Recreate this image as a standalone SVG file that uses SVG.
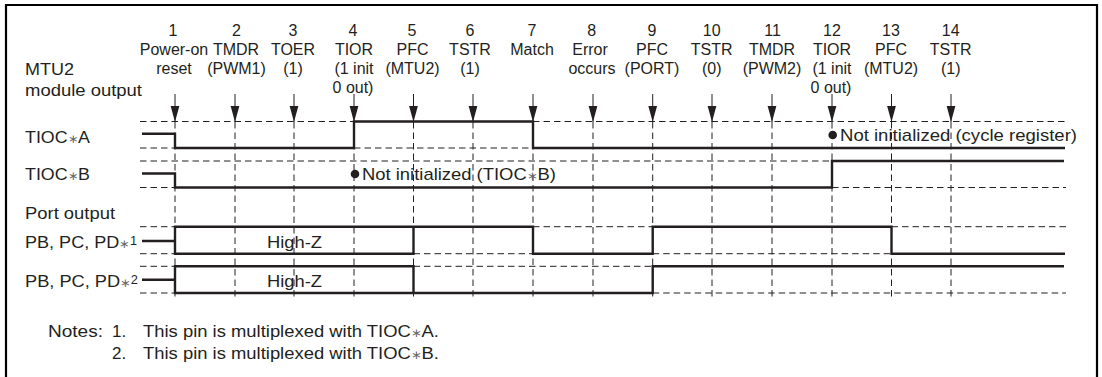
<svg xmlns="http://www.w3.org/2000/svg" width="1102" height="377" viewBox="0 0 1102 377">
<style>
text{font-family:"Liberation Sans",Arial,sans-serif;font-size:16px;fill:#231f20}
.c{text-anchor:middle}
.l{font-size:17px}
.s{fill:#666;font-size:12px}
.n{font-size:12px;fill:#231f20}
.w{fill:none;stroke:#231f20;stroke-width:2.4}
.d{fill:none;stroke:#231f20;stroke-width:1;stroke-dasharray:6.500 4}
.a{stroke:#231f20;stroke-width:1;marker-end:url(#h)}
</style>
<defs><marker id="h" markerUnits="userSpaceOnUse" markerWidth="17" markerHeight="10" refX="16.500" refY="5" orient="auto" viewBox="0 0 17 10"><path d="M0 0.500L16.500 5L0 9.500Z" fill="#231f20"/></marker></defs>
<rect width="1102" height="377" fill="#fff"/>
<path d="M6 377V5H1097V377" fill="none" stroke="#000" stroke-width="2.200"/>
<g id="connectors">
<path class="d" d="M175 122V300M235 122V300M294 122V300M354 122V300M413.500 122V300M473 122V300M533 122V300M593 122V300M652.700 122V300M712 122V300M772 122V300M832 122V300M891.500 122V300M951 122V300"/>
<path class="d" d="M140 121.500H354M533 121.500H1066M140 148H175M354 148H533M140 161H832M140 187.500H175M832 187.500H1066M140 226.700H175M533 226.700H652.700M891.500 226.700H1066M140 253.700H175M413.500 253.700H533M652.700 253.700H891.500M140 266.300H175M413.500 266.300H652.700M140 293H175M652.700 293H1066"/>
<path class="a" d="M175 94V122"/><path class="a" d="M235 94V122"/><path class="a" d="M294 94V122"/><path class="a" d="M354 94V122"/><path class="a" d="M413.500 94V122"/><path class="a" d="M473 94V122"/><path class="a" d="M533 94V122"/><path class="a" d="M593 94V122"/><path class="a" d="M652.700 94V122"/><path class="a" d="M712 94V122"/><path class="a" d="M772 94V122"/><path class="a" d="M832 94V122"/><path class="a" d="M891.500 94V122"/><path class="a" d="M951 94V122"/>
</g>
<g id="title"><text class="l" x="25" y="75" textLength="49" lengthAdjust="spacingAndGlyphs">MTU2</text><text class="l" x="25" y="96" textLength="117" lengthAdjust="spacingAndGlyphs">module output</text></g>
<g id="event-1"><text class="c" x="173" y="36">1</text><text class="c" x="174" y="55">Power-on</text><text class="c" x="174" y="74">reset</text></g>
<g id="event-2"><text class="c" x="236.500" y="36">2</text><text class="c" x="236" y="55">TMDR</text><text class="c" x="236.500" y="74">(PWM1)</text></g>
<g id="event-3"><text class="c" x="293" y="36">3</text><text class="c" x="293" y="55">TOER</text><text class="c" x="293" y="74">(1)</text></g>
<g id="event-4"><text class="c" x="353" y="36">4</text><text class="c" x="354" y="55">TIOR</text><text class="c" x="354" y="74">(1 init</text><text class="c" x="353" y="93">0 out)</text></g>
<g id="event-5"><text class="c" x="412" y="36">5</text><text class="c" x="412.500" y="55">PFC</text><text class="c" x="412.500" y="74">(MTU2)</text></g>
<g id="event-6"><text class="c" x="470" y="36">6</text><text class="c" x="470" y="55">TSTR</text><text class="c" x="470" y="74">(1)</text></g>
<g id="event-7"><text class="c" x="532" y="36">7</text><text class="c" x="532" y="55">Match</text></g>
<g id="event-8"><text class="c" x="591.700" y="36">8</text><text class="c" x="590" y="55">Error</text><text class="c" x="592" y="74">occurs</text></g>
<g id="event-9"><text class="c" x="652" y="36">9</text><text class="c" x="652" y="55">PFC</text><text class="c" x="652" y="74">(PORT)</text></g>
<g id="event-10"><text class="c" x="711.700" y="36">10</text><text class="c" x="711.700" y="55">TSTR</text><text class="c" x="711.700" y="74">(0)</text></g>
<g id="event-11"><text class="c" x="772.500" y="36">11</text><text class="c" x="772" y="55">TMDR</text><text class="c" x="772" y="74">(PWM2)</text></g>
<g id="event-12"><text class="c" x="832" y="36">12</text><text class="c" x="832" y="55">TIOR</text><text class="c" x="832" y="74">(1 init</text><text class="c" x="831" y="93">0 out)</text></g>
<g id="event-13"><text class="c" x="891" y="36">13</text><text class="c" x="891" y="55">PFC</text><text class="c" x="891" y="74">(MTU2)</text></g>
<g id="event-14"><text class="c" x="950.700" y="36">14</text><text class="c" x="950.700" y="55">TSTR</text><text class="c" x="950.700" y="74">(1)</text></g>
<g id="tioc-a"><text class="l" x="25" y="143" textLength="65" lengthAdjust="spacingAndGlyphs">TIOC<tspan class="s">∗</tspan>A</text>
<path class="w" d="M142 133.700H175V148H354V121.500H533V148H1065"/>
<circle cx="832.700" cy="135" r="4.300" fill="#231f20"/><text class="l" x="840" y="141" textLength="237" lengthAdjust="spacingAndGlyphs">Not initialized (cycle register)</text></g>
<g id="tioc-b"><text class="l" x="25" y="180" textLength="65" lengthAdjust="spacingAndGlyphs">TIOC<tspan class="s">∗</tspan>B</text>
<path class="w" d="M142 173.500H175V187.500H832V161H1064"/>
<circle cx="355" cy="174" r="4.300" fill="#231f20"/><text class="l" x="362" y="180" textLength="194" lengthAdjust="spacingAndGlyphs">Not initialized (TIOC<tspan class="s">∗</tspan>B)</text></g>
<g id="port-label"><text class="l" x="25" y="218.500" textLength="90" lengthAdjust="spacingAndGlyphs">Port output</text></g>
<g id="port-1"><text class="l" x="25" y="248" textLength="112" lengthAdjust="spacingAndGlyphs">PB, PC, PD<tspan class="s">∗</tspan><tspan class="n" dy="-3">1</tspan></text>
<path class="w" d="M142 241H175M175 226.700H413.500V253.700H175ZM413.500 226.700H533V253.700H652.700V226.700H891.500V253.700H1065"/>
<text class="l" x="267" y="248" textLength="55" lengthAdjust="spacingAndGlyphs">High-Z</text></g>
<g id="port-2"><text class="l" x="25" y="287" textLength="113" lengthAdjust="spacingAndGlyphs">PB, PC, PD<tspan class="s">∗</tspan><tspan class="n" dy="-3">2</tspan></text>
<path class="w" d="M142 279.700H175M175 266.300H413.500V293H175ZM413.500 293H652.700V266.300H1064"/>
<text class="l" x="267" y="287" textLength="55" lengthAdjust="spacingAndGlyphs">High-Z</text></g>
<g id="notes"><text class="l" x="48" y="337" textLength="55" lengthAdjust="spacingAndGlyphs">Notes:</text><text class="l" x="112" y="337">1.</text><text class="l" x="143" y="337" textLength="296" lengthAdjust="spacingAndGlyphs">This pin is multiplexed with TIOC<tspan class="s">∗</tspan>A.</text><text class="l" x="112" y="358.700">2.</text><text class="l" x="143" y="358.700" textLength="296" lengthAdjust="spacingAndGlyphs">This pin is multiplexed with TIOC<tspan class="s">∗</tspan>B.</text></g>
</svg>
